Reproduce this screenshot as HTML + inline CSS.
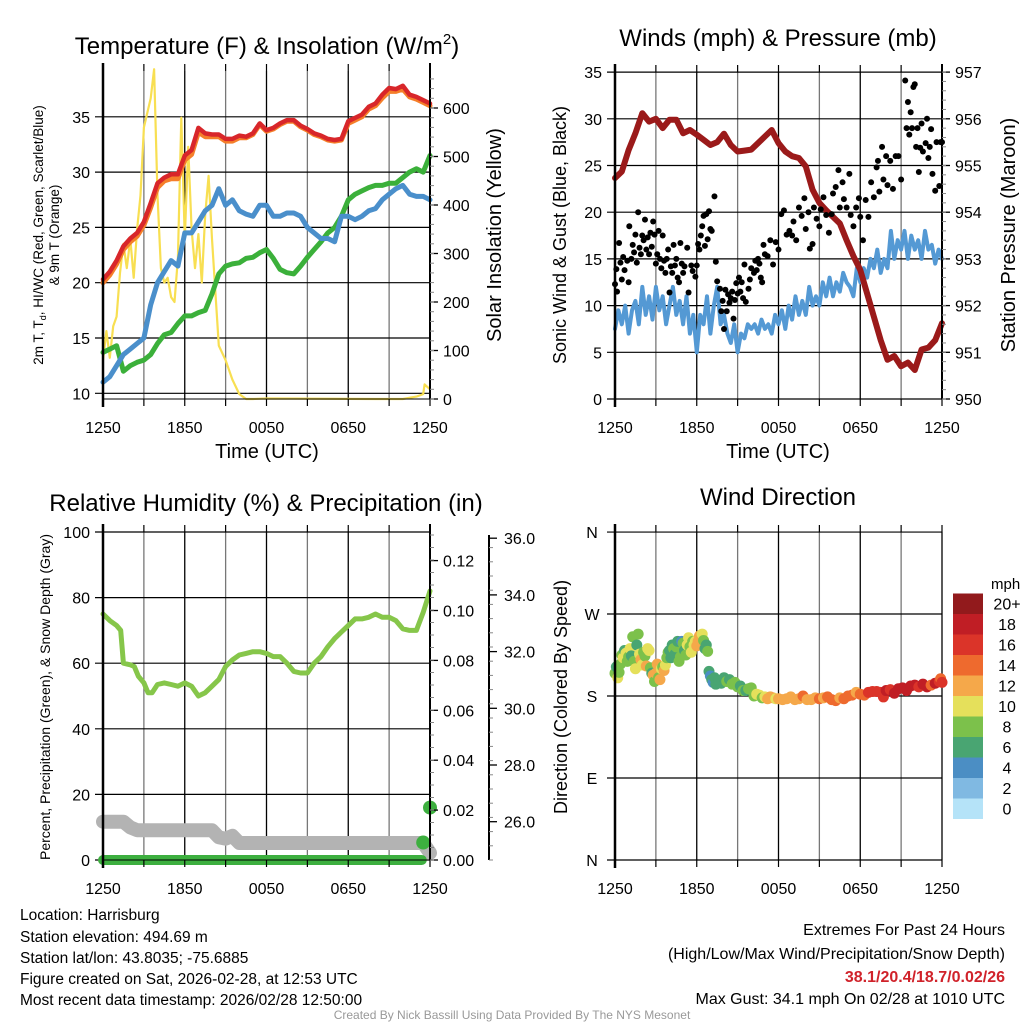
<!DOCTYPE html>
<html><head><meta charset="utf-8"><style>
html,body{margin:0;padding:0;background:#fff;}
svg{display:block;font-family:"Liberation Sans",Arial,sans-serif;}
</style></head><body>
<svg id="chart" width="1024" height="1024" viewBox="0 0 1024 1024" xmlns="http://www.w3.org/2000/svg">
<rect width="1024" height="1024" fill="#fff"/>
<g id="grids"></g>
<g id="series"></g>
<g id="axes"></g>
<g id="texts" font-size="16" fill="#000">
<text x="267" y="54" font-size="24" text-anchor="middle">Temperature (F) &amp; Insolation (W/m<tspan font-size="15" dy="-10">2</tspan><tspan dy="10">)</tspan></text>
<text x="778" y="46" font-size="24" text-anchor="middle">Winds (mph) &amp; Pressure (mb)</text>
<text x="266" y="511" font-size="24" text-anchor="middle">Relative Humidity (%) &amp; Precipitation (in)</text>
<text x="778" y="505" font-size="24" text-anchor="middle">Wind Direction</text>
<text x="267" y="458" font-size="20" text-anchor="middle">Time (UTC)</text>
<text x="778" y="458" font-size="20" text-anchor="middle">Time (UTC)</text>
<text transform="translate(43,235) rotate(-90)" font-size="13.5" text-anchor="middle">2m T, T<tspan font-size="9" dy="3">d</tspan><tspan dy="-3">, HI/WC (Red, Green, Scarlet/Blue)</tspan></text>
<text transform="translate(59,235) rotate(-90)" font-size="13.5" text-anchor="middle">&amp; 9m T (Orange)</text>
<text transform="translate(501,235) rotate(-90)" font-size="20" text-anchor="middle">Solar Insolation (Yellow)</text>
<text transform="translate(566,235) rotate(-90)" font-size="18" text-anchor="middle">Sonic Wind &amp; Gust (Blue, Black)</text>
<text transform="translate(1015,235) rotate(-90)" font-size="20" text-anchor="middle">Station Pressure (Maroon)</text>
<text transform="translate(50,697) rotate(-90)" font-size="14" text-anchor="middle">Percent, Precipitation (Green), &amp; Snow Depth (Gray)</text>
<text transform="translate(567,697) rotate(-90)" font-size="18" text-anchor="middle">Direction (Colored By Speed)</text>
<text x="991" y="589" font-size="15">mph</text>
<g font-size="15.5">
<text x="20" y="920">Location: Harrisburg</text>
<text x="20" y="942">Station elevation: 494.69 m</text>
<text x="20" y="963">Station lat/lon: 43.8035; -75.6885</text>
<text x="20" y="984">Figure created on Sat, 2026-02-28, at 12:53 UTC</text>
<text x="20" y="1005">Most recent data timestamp: 2026/02/28 12:50:00</text>
</g>
<g font-size="16" text-anchor="end">
<text x="1005" y="935">Extremes For Past 24 Hours</text>
<text x="1005" y="959">(High/Low/Max Wind/Precipitation/Snow Depth)</text>
<text x="1005" y="982" fill="#d0222a" font-weight="bold">38.1/20.4/18.7/0.02/26</text>
<text x="1005" y="1004">Max Gust: 34.1 mph On 02/28 at 1010 UTC</text>
</g>
<text x="512" y="1019" font-size="12" fill="#999" text-anchor="middle">Created By Nick Bassill Using Data Provided By The NYS Mesonet</text>
</g>
</svg>
<script>
// ---------- data ----------
const hours = [0,0.5,1,1.5,2,2.5,3,3.5,4,4.5,5,5.5,6,6.5,7,7.5,8,8.5,9,9.5,10,10.5,11,11.5,12,12.5,13,13.5,14,14.5,15,15.5,16,16.5,17,17.5,18,18.5,19,19.5,20,20.5,21,21.5,22,22.5,23,23.5,24];
const tempRed = [20.3,21,22,23.3,24,24.5,25.5,27.2,29,29.5,29.8,29.8,31.5,32,34,33.5,33.4,33.4,33,33,33.3,33.2,33.5,34.4,33.8,34,34.4,34.7,34.7,34.2,33.9,33.5,33.3,33,32.9,33,34.6,34.9,35.2,35.9,36.2,37,37.6,37.5,37.8,37,36.8,36.5,36.2];
const temp9m = [20,20.7,21.7,23,23.7,24.2,25.2,26.8,28.6,29.2,29.4,29.4,31.1,31.6,33.6,33.2,33.2,33.2,32.8,32.8,33.1,33.1,33.4,34.3,33.7,33.9,34.3,34.6,34.6,34.1,33.8,33.4,33.2,32.9,32.8,32.9,34.4,34.7,35,35.7,36,36.7,37.3,37.3,37.5,36.8,36.6,36.3,36];
const heatIdx = [11,11.5,12.5,13.5,14,14.5,15,18,20,21,22,21.5,24.5,24.5,25.5,26.5,27,28.5,27,27.5,26.5,26.2,26,27,27,26,26,26.3,26.3,26,25,24.5,24,24,23.7,26,26,25.7,26,26.5,26.7,27.5,28,28.5,28.8,28,27.8,27.8,27.5];
const dewpt = [13.7,14,14.3,12,12.5,12.8,13,13.5,14.5,15.3,15.5,16.3,17,17,17.3,17.5,19,20.8,21.5,21.7,21.8,22.2,22.3,22.7,23,22.2,21.2,20.9,20.8,21.5,22.3,23,23.7,24.5,25,26,27.5,28,28.3,28.6,28.8,28.8,29,29,29.5,30,30.3,30,31.5];
const solHours = [0,0.25,0.5,0.75,1,1.25,1.5,1.75,2,2.25,2.5,2.75,3,3.25,3.5,3.75,4,4.25,4.5,4.75,5,5.25,5.5,5.75,6,6.25,6.5,6.75,7,7.25,7.5,7.75,8,8.5,9,9.5,10,10.5,11,12,20,22,23,23.5,23.6,24];
const solar = [80,140,85,150,170,260,320,270,330,250,350,420,560,590,620,680,420,270,240,250,210,200,290,580,330,520,350,270,340,240,380,460,330,110,80,40,10,0,0,1,0,0,5,10,30,20];
const pressure = [954.73,954.87,955.33,955.69,956.12,955.94,956.0,955.8,955.98,955.98,955.69,955.76,955.66,955.55,955.44,955.5,955.68,955.44,955.3,955.32,955.34,955.48,955.62,955.76,955.48,955.3,955.2,955.16,954.98,954.48,954.2,954.04,953.9,953.76,953.4,953.06,952.76,952.26,951.76,951.26,950.84,950.92,950.7,950.78,950.62,951.06,951.1,951.26,951.62];
const windHours = [0,0.25,0.5,0.75,1,1.25,1.5,1.75,2,2.25,2.5,2.75,3,3.25,3.5,3.75,4,4.25,4.5,4.75,5,5.25,5.5,5.75,6,6.25,6.5,6.75,7,7.25,7.5,7.75,8,8.25,8.5,8.75,9,9.25,9.5,9.75,10,10.25,10.5,10.75,11,11.25,11.5,11.75,12,12.25,12.5,12.75,13,13.25,13.5,13.75,14,14.25,14.5,14.75,15,15.25,15.5,15.75,16,16.25,16.5,16.75,17,17.25,17.5,17.75,18,18.25,18.5,18.75,19,19.25,19.5,19.75,20,20.25,20.5,20.75,21,21.25,21.5,21.75,22,22.25,22.5,22.75,23,23.25,23.5,23.75,24];
const sonicWind = [7.5,9.5,8,10,7,9.5,10.5,8,12,9,11,8.5,12,9.5,11,8,10,12,9,10.5,8,11,7,9,5,9,8,11,7,10,12,8,9,7,6,8,5,7,6.5,8,7.5,8,7,8.5,7.5,8,7,9,8,9.5,7.5,10,8.5,11,9,10.5,9,12,10,11,10,12.5,11,13,11,12.5,11.5,13.5,12.5,12,11,14,12.5,14,13,15,14,16,13.5,15,14,18,15,17,16,18,15,17.5,16,17,15,18,16,16.5,14.5,16,15];
const gustHours = [0,0.1,0.15,0.3,0.4,0.5,0.6,0.7,0.9,1,1.05,1.2,1.3,1.4,1.5,1.6,1.7,1.8,1.9,2,2.1,2.2,2.3,2.4,2.5,2.6,2.7,2.8,2.9,3,3.1,3.2,3.3,3.4,3.5,3.6,3.7,3.8,3.9,4,4.1,4.2,4.3,4.4,4.5,4.6,4.7,4.8,4.9,5,5.1,5.3,5.4,5.6,5.7,5.9,6,6.1,6.2,6.3,6.4,6.5,6.6,6.7,6.8,6.9,7,7.1,7.3,7.4,7.5,7.7,7.8,7.9,8,8.1,8.2,8.3,8.4,8.5,8.6,8.7,8.8,8.9,9,9.1,9.2,9.3,9.4,9.5,9.6,9.8,9.9,10,10.2,10.3,10.4,10.5,10.6,10.7,10.8,10.9,11,11.2,11.4,11.6,11.8,12,12.2,12.4,12.6,12.8,13,13.1,13.3,13.5,13.7,13.9,14,14.2,14.3,14.5,14.6,14.8,15,15.1,15.3,15.5,15.7,15.9,16,16.2,16.4,16.5,16.7,16.8,17,17.2,17.3,17.5,17.7,17.9,18,18.2,18.4,18.6,18.8,19,19.2,19.3,19.4,19.6,19.7,19.9,20,20.2,20.4,20.6,20.8,21,21.3,21.4,21.5,21.6,21.7,21.8,21.9,22,22.1,22.2,22.3,22.4,22.5,22.6,22.8,22.9,23,23.1,23.2,23.3,23.5,23.6,23.8,23.9,24];
const gustVals = [12.3,13.9,11.5,16.7,14.6,12.8,15.2,13.8,14.8,12.5,18.5,15,16.5,15.7,17.6,14.6,20,16.2,15.5,17.5,17,19.2,16,17.3,15.5,17.8,16.3,19,17.6,14.5,15.5,18,15,14,17.5,14.8,13.5,15,16,11.4,14.2,13.5,16.5,14.3,15,13,12.5,16.7,14.5,13.5,14.2,16.2,11.4,14.3,13.7,13.1,14.3,16.6,16,17.5,18.5,19.6,16.4,19.8,17.1,20.1,18.2,18,21.7,14.7,12.6,11.8,9.4,10.5,7.5,11.7,9.4,11.2,10.3,10.8,11.5,8.6,10.6,12.4,11.3,13,11.5,12.5,10.8,14.4,10.4,11.8,12.8,14,13.5,14.8,13.8,15,14.5,13,12.5,16.5,15.5,15.3,17,14.4,16.8,16,19.8,20.2,17.6,18,17.5,19,17,20.5,19.6,21.5,18.2,20,16.1,16.6,20.5,19.3,18.5,20.3,21.6,19.7,17.8,19.8,22,22.7,24.5,20.5,23.2,21.4,20.5,24.1,19.7,18.5,20.5,21.5,19.5,17,21.3,19.5,23.2,21.6,24.8,25.5,22.2,27,23.5,26,22.9,25.5,22.5,26,26,23.5,34.1,29,31.8,28.3,30.7,29,33.4,33.7,27,29,24.3,26.9,29.5,26.5,27.4,30,25.8,27,28.9,24.1,22.3,27.5,22.8,27.5,27.5];
const rhVals = [75,73,71.5,70,60,59.5,59,56,54,51,51,53.5,54,53.5,53,54,53,50,51,53,55,59,61,62.5,63,63.5,63.5,63,62,62,60,57.5,57,57,60,62,65,67.5,69.5,71.5,73.5,73.5,74,75,74,74,73,70.5,70,70,75.5,82];
const rhHours = [0,0.5,1,1.3,1.5,2,2.3,2.6,3,3.3,3.6,4,4.5,5,5.5,6,6.5,7,7.5,8,8.5,9,9.5,10,10.5,11,11.5,12,12.5,13,13.5,14,14.5,15,15.5,16,16.5,17,17.5,18,18.5,19,19.5,20,20.5,21,21.5,22,22.5,23,23.5,24];
const snowHours = [0,1.5,2,2.5,8,8.5,9,9.5,10,23.5,24];
const snowDepth = [26.0,26.0,25.8,25.7,25.7,25.45,25.4,25.5,25.25,25.25,24.9];
const precipHours = [0,23.4,23.5,24];
const precipVals = [0,0,0.007,0.021];
const dirHours = [0,0.1,0.2,0.3,0.4,0.5,0.6,0.7,0.8,0.9,1,1.1,1.2,1.3,1.4,1.5,1.6,1.7,1.8,1.9,2,2.1,2.2,2.3,2.4,2.5,2.6,2.7,2.8,2.9,3,3.1,3.2,3.3,3.4,3.5,3.6,3.7,3.8,3.9,4,4.1,4.2,4.3,4.4,4.5,4.6,4.7,4.8,4.9,5,5.1,5.2,5.3,5.4,5.5,5.6,5.7,5.8,5.9,6,6.1,6.2,6.3,6.4,6.5,6.6,6.7,6.8,6.9,7,7.1,7.2,7.3,7.4,7.6,7.8,8,8.2,8.4,8.6,8.8,9,9.2,9.4,9.6,9.8,10,10.2,10.4,10.6,10.8,11,11.2,11.4,11.6,11.8,12,12.3,12.6,12.9,13.2,13.5,13.8,14.1,14.4,14.7,15,15.3,15.6,15.9,16.2,16.5,16.8,17.1,17.4,17.7,18,18.3,18.6,18.9,19.2,19.5,19.7,19.9,20.2,20.5,20.8,21.1,21.4,21.7,22,22.3,22.6,22.9,23.2,23.5,23.8,23.9,24];
const dirVals = [205,212,200,206,215,225,222,230,227,218,223,232,224,245,218,210,236,248,226,220,214,228,224,213,232,230,211,205,203,196,205,215,200,198,210,212,208,214,222,228,230,222,236,232,226,234,240,218,223,240,238,230,225,236,244,234,228,240,236,240,235,240,246,243,248,241,232,236,229,207,202,198,195,200,193,197,194,200,196,198,193,195,190,191,186,186,188,189,180,182,181,178,179,177,179,178,177,177,176,177,179,176,177,180,176,176,178,177,178,179,176,175,178,177,180,181,184,182,181,184,185,185,184,179,186,187,183,188,189,186,191,192,190,193,190,192,194,196,199,195];
const dirSpeed = [8,7,10,8,8,8,10,7,10,9,9,10,6,8,8,11,7,8,10,12,10,8,9,12,10,10,8,6,12,9,12,12,8,12,10,8,13,10,8,8,7,7,6,8,7,8,6,8,8,4,8,6,8,10,10,8,10,8,10,11,12,12,12,13,10,8,7,6,8,6,5,6,4,6,6,6,6,7,8,6,8,8,8,7,8,7,8,8,9,10,10,9,10,12,12,12,11,12,12,12,12,12,13,14,12,13,12,14,13,14,14,14,12,15,14,15,12,15,15,16,17,16,16,17,18,17,18,18,19,18,19,18,17,19,19,14,19,16,15,16];
const timeTicks = ['1250','1850','0050','0650','1250'];
const tempTicks = [10,15,20,25,30,35];
const solarTicks = [0,100,200,300,400,500,600];
const windTicks = [0,5,10,15,20,25,30,35];
const presTicks = [950,951,952,953,954,955,956,957];
const rhTicks = [0,20,40,60,80,100];
const precipTicks = [0,0.02,0.04,0.06,0.08,0.10,0.12];
const snowTicks = [26,28,30,32,34,36];
const dirTicks = ['N','E','S','W','N'];
const cbLabels = ['0','2','4','6','8','10','12','14','16','18','20+'];
const cbColors = ['#b5e3f8','#80b9e2','#4b8ec4','#49a572','#7cc14b','#e5e05b','#f5a84a','#ee6a2e','#db3429','#c01e25','#921a1c'];

// ---------- scales ----------
const NS='http://www.w3.org/2000/svg';
const P1={x0:103,x1:430,y0:71,y1:399}, P2={x0:615,x1:942,y0:72,y1:399}, P3={x0:103,x1:430,y0:532,y1:860}, P4={x0:615,x1:942,y0:532,y1:860};
const xs=(P,h)=>P.x0+h*(P.x1-P.x0)/24;
const yTemp=v=>393.3-(v-10)*11.06;
const ySol=v=>399-v*0.485;
const yWind=v=>399-v*9.34;
const yPres=v=>399-(v-950)*46.7;
const yRh=v=>860-v*3.28;
const yPrec=v=>860-v*2495;
const ySnow=v=>821.7-(v-26)*28.35;
const yDir=v=>860-v*0.911;
function mk(tag,attrs,parent){const e=document.createElementNS(NS,tag);for(const k in attrs)e.setAttribute(k,attrs[k]);parent.appendChild(e);return e;}
const G=document.getElementById('grids'),S=document.getElementById('series'),A=document.getElementById('axes');
function poly(xsArr,ysArr,P,yf){return xsArr.map((h,i)=>xs(P,h).toFixed(1)+','+yf(ysArr[i]).toFixed(1)).join(' ');}

// ---------- grids & frames ----------
function panelFrame(P,hTicks,yf,name){
  for(let i=0;i<=8;i++){
    const x=xs(P,i*3);
    const gl=mk('line',{x1:x,x2:x,y1:P.y0,y2:P.y1,stroke:(i%2==0)?'#000':'#777','stroke-width':1.3},G);
    
    
    const tk=mk('line',{x1:x,x2:x,y1:P.y1,y2:P.y1+7,stroke:'#000','stroke-width':1.2},A);
    
    
    const tt=mk('line',{x1:x,x2:x,y1:P.y0,y2:P.y0-7,stroke:'#000','stroke-width':1.2},A);
    
    
  }
  timeTicks.forEach((t,i)=>{
    const tx=mk('text',{x:xs(P,i*6),y:P.y1+34,'font-size':16,'text-anchor':'middle'},A);
    tx.textContent=t;
    
    
  });
  hTicks.forEach(v=>{
    const y=yf(v);
    const hl=mk('line',{x1:P.x0-8,x2:P.x1,y1:y,y2:y,stroke:'#000','stroke-width':1.2},G);
    
    
  });
  const ax=mk('line',{x1:P.x0,x2:P.x0,y1:P.y0-8,y2:P.y1+8,stroke:'#000','stroke-width':2.5},A);
  
  
  const bx=mk('line',{x1:P.x0,x2:P.x1,y1:P.y1,y2:P.y1,stroke:'#000','stroke-width':1},A);
  
  
}
function leftLabels(P,vals,yf,name,fmt){
  vals.forEach(v=>{
    const t=mk('text',{x:P.x0-13,y:yf(v)+6,'font-size':16,'text-anchor':'end'},A);
    t.textContent=fmt?fmt(v):v;
    
    
  });
}
function rightAxis(P,vals,yf,name,fmt,minor){
  const ax=mk('line',{x1:P.x1,x2:P.x1,y1:P.y0-8,y2:P.y1,stroke:'#000','stroke-width':2},A);
  
  
  vals.forEach(v=>{
    const y=yf(v);
    const tk=mk('line',{x1:P.x1,x2:P.x1+8,y1:y,y2:y,stroke:'#000','stroke-width':1.3},A);
    
    
    const t=mk('text',{x:P.x1+13,y:y+6,'font-size':16},A);
    t.textContent=fmt?fmt(v):v;
    
    
  });
  for(let y=P.y1;y>P.y0;y-=minor){
    const m=mk('line',{x1:P.x1,x2:P.x1+4,y1:y,y2:y,stroke:'#888','stroke-width':1},A);
    
    
  }
}

// Panel 1
panelFrame(P1,tempTicks,yTemp,'temp');
leftLabels(P1,tempTicks,yTemp,'temp');
rightAxis(P1,solarTicks,ySol,'solar',null,9.7);
// Panel 2
panelFrame(P2,windTicks,yWind,'wind');
leftLabels(P2,windTicks,yWind,'wind');
rightAxis(P2,presTicks,yPres,'pressure',null,9.34);
// Panel 3
panelFrame(P3,rhTicks,yRh,'rh');
leftLabels(P3,rhTicks,yRh,'rh');
rightAxis(P3,precipTicks,yPrec,'precip',v=>v.toFixed(2),12.5);
// third axis (snow)
{
  const ax=mk('line',{x1:489,x2:489,y1:535,y2:860,stroke:'#000','stroke-width':2},A);
  
  
  snowTicks.forEach(v=>{
    const y=ySnow(v);
    const tk=mk('line',{x1:489,x2:497,y1:y,y2:y,stroke:'#000','stroke-width':1.3},A);
    
    
    const t=mk('text',{x:504,y:y+6,'font-size':16},A);
    t.textContent=v.toFixed(1);
    
    
  });
  for(let y=860;y>535;y-=14.2){
    const m=mk('line',{x1:489,x2:493,y1:y,y2:y,stroke:'#888','stroke-width':1},A);
    
    
  }
}
// Panel 4
panelFrame(P4,[0,90,180,270,360],yDir,'dir');
dirTicks.forEach((d,i)=>{
  const t=mk('text',{x:P4.x0-23,y:yDir(i*90)+6,'font-size':16,'text-anchor':'middle'},A);
  t.textContent=d;
  
  
});

// ---------- series ----------
function line(P,hArr,vArr,yf,color,w,name){
  const p=mk('polyline',{points:poly(hArr,vArr,P,yf),fill:'none',stroke:color,'stroke-width':w,'stroke-linejoin':'round','stroke-linecap':'round'},S);
  
  
}
line(P1,solHours,solar,ySol,'#f8df52',2.2,'insolation-line');
line(P1,hours,dewpt,yTemp,'#3bb03a',5,'dewpoint-line');
line(P1,hours,heatIdx,yTemp,'#4a8fcb',5,'heat-index-line');
line(P1,hours,temp9m,yTemp,'#f57f2a',5,'temp-9m-line');
line(P1,hours,tempRed,yTemp,'#d8262a',4.5,'temp-2m-line');
// panel1 insolation on top in original? keep order
line(P2,windHours,sonicWind,yWind,'#5499d4',4,'sonic-wind-line');
line(P2,hours,pressure,yPres,'#9b1a1a',6,'pressure-line');
gustHours.forEach((h,i)=>{
  const c=mk('circle',{cx:xs(P2,h),cy:yWind(gustVals[i]),r:3,fill:'#000'},S);
  
  
});
line(P3,snowHours,snowDepth,ySnow,'#b3b3b3',14,'snow-depth-line');
line(P3,precipHours.slice(0,2),precipVals.slice(0,2),yPrec,'#3daf3f',10,'precip-line');
precipHours.slice(2).forEach((h,i)=>{
  const c=mk('circle',{cx:xs(P3,h),cy:yPrec(precipVals[i+2]),r:7,fill:'#3daf3f'},S);
  
  
});
line(P3,rhHours,rhVals,yRh,'#86c64a',5,'rh-line');
function spColor(s){return cbColors[Math.min(10,Math.floor(s/2))];}
dirHours.forEach((h,i)=>{
  const c=mk('circle',{cx:xs(P4,h),cy:yDir(dirVals[i]),r:5.5,fill:spColor(dirSpeed[i])},S);
  
  
});
// colorbar
cbColors.forEach((col,i)=>{
  const y=819-(i+1)*20.5;
  const r=mk('rect',{x:953,y:y,width:30,height:20.5,fill:col},A);
  
  
  const t=mk('text',{x:1007,y:y+16,'font-size':16,'text-anchor':'middle'},A);
  t.textContent=cbLabels[i];
  
  
});
</script>
</body></html>
